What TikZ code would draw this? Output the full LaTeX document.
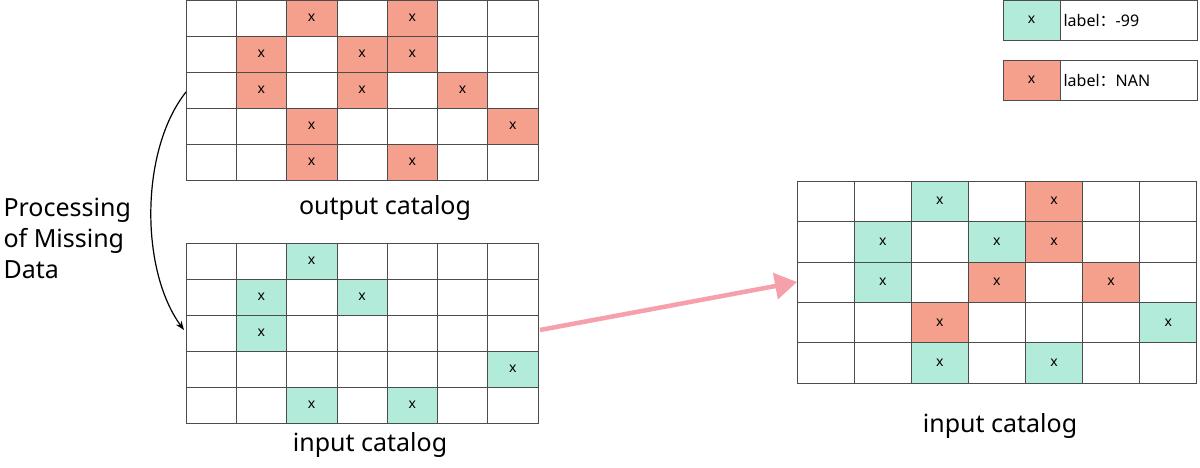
\documentclass[tikz,border=0pt]{standalone}
\usepackage{fontspec}
\setmainfont{Noto Sans}
\newfontfamily\cjk{Noto Sans CJK SC}
\usetikzlibrary{arrows.meta,positioning}
\definecolor{mint}{HTML}{B3EBDB}
\definecolor{salmon}{HTML}{F4A08C}
\definecolor{pinkarrow}{HTML}{F5A0AA}
\tikzset{
cell/.style={draw=black!70, line width=0.6pt, minimum width=#1, inner sep=0pt, font=\fontsize{14}{14}\selectfont},
title/.style={font=\fontsize{25}{25}\selectfont\bfseries},
}
\begin{document}
\begin{tikzpicture}[x=1pt,y=-1pt]
	\useasboundingbox (0,0) rectangle (1200,467);
	% output catalog
	\foreach \r in {0,...,4}
		\foreach \c in {0,...,6}
			\node[cell=50.3pt, minimum height=36pt] (o\r\c) at ({211.1+50.3*\c},{18+36*\r}) {};
	\foreach \r/\c in {0/2,0/4,1/1,1/3,1/4,2/1,2/3,2/5,3/2,3/6,4/2,4/4}
		\node[cell=50.3pt, minimum height=36pt, fill=salmon] at (o\r\c) {x};
	% input catalog
	\foreach \r in {0,...,4}
		\foreach \c in {0,...,6}
			\node[cell=50.3pt, minimum height=36pt] (i\r\c) at ({211.1+50.3*\c},{261+36*\r}) {};
	\foreach \r/\c in {0/2,1/1,1/3,2/1,3/6,4/2,4/4}
		\node[cell=50.3pt, minimum height=36pt, fill=mint] at (i\r\c) {x};
	% result
	\foreach \r in {0,...,4}
		\foreach \c in {0,...,6}
			\node[cell=57.1pt, minimum height=40.4pt] (n\r\c) at ({825.6+57.1*\c},{201.2+40.4*\r}) {};
	\foreach \r/\c in {0/2,1/1,1/3,2/1,3/6,4/2,4/4}
		\node[cell=57.1pt, minimum height=40.4pt, fill=mint] at (n\r\c) {x};
	\foreach \r/\c in {0/4,1/4,2/3,2/5,3/2}
		\node[cell=57.1pt, minimum height=40.4pt, fill=salmon] at (n\r\c) {x};
	% legend
	\node[cell=57pt, minimum height=40pt, fill=mint] (lg) at (1031.5,20) {x};
	\node[cell=137pt, minimum height=40pt, right=0pt of lg, align=left, text width=131pt, font=\fontsize{16}{16}\selectfont] (lgt) {label{\cjk ：}-99};
	\node[cell=57pt, minimum height=40pt, fill=salmon] (lr) at (1031.5,80) {x};
	\node[cell=137pt, minimum height=40pt, right=0pt of lr, align=left, text width=131pt, font=\fontsize{16}{16}\selectfont] (lrt) {label{\cjk ：}NAN};
	% titles
	\node[title] (ot) at (385,208) {output catalog};
	\node[title] (it) at (370,445) {input catalog};
	\node[title] (nt) at (1000,426) {input catalog};
	\node[title, align=left, anchor=west, font=\fontsize{25}{31}\selectfont] (pm) at (0,238) {Processing\\of Missing\\Data};
	% arrows
	\coordinate (a1) at (186,92);
	\coordinate (a2) at (184,330);
	\draw[-{Stealth[length=9pt]}, line width=1.2pt] (a1) .. controls (140,150) and (140,270) .. (a2);
	\coordinate (b1) at (540,330);
	\coordinate (b2) at (797,282);
	\draw[-{Triangle[length=22pt,width=26pt]}, line width=4.5pt, draw=pinkarrow, fill=pinkarrow] (b1) -- (b2);
\end{tikzpicture}
\end{document}
